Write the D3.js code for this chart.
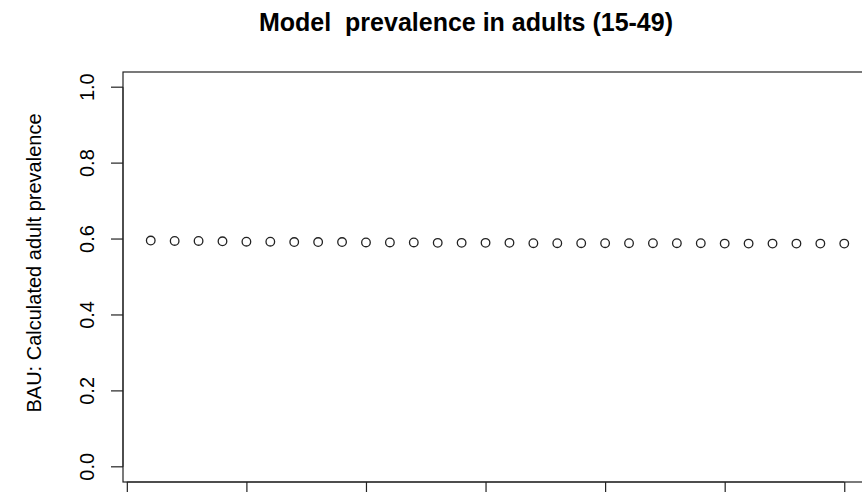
<!DOCTYPE html>
<html>
    <head>
        <title>Model prevalence</title>
        <script src="https://d3js.org/d3.v7.min.js"></script>
        <style>
            body { margin: 0; background: white; }
            text { font-family: "Liberation Sans", Arial, sans-serif; fill: black; }
            .axis path, .axis line { stroke: #222; }
        </style>
    </head>
    <body>
        <svg id="chart" width="862" height="492"></svg>
        <script>
            // Data (x tick labels are cut off in the reference)
            const years = d3.range(2011, 2041);
            const prevalence = [0.596, 0.595, 0.595, 0.594, 0.593, 0.593, 0.592, 0.592, 0.592, 0.591,
                                0.591, 0.591, 0.590, 0.590, 0.590, 0.590, 0.589, 0.589, 0.589, 0.589,
                                0.589, 0.589, 0.589, 0.589, 0.588, 0.588, 0.588, 0.588, 0.588, 0.588];
            const yTicks = [0, 0.2, 0.4, 0.6, 0.8, 1.0];
            const xTicks = [2010, 2015, 2020, 2025, 2030, 2035, 2040];

            const svg = d3.select("#chart");
            const margins = { top: 72, left: 123, bottom: 482, right: 872 };

            // R-style 4% padding on both axes
            const xScale = d3.scaleLinear()
                             .domain([2011 - 29 * 0.04, 2040 + 29 * 0.04])
                             .range([margins.left, margins.right]);
            const yScale = d3.scaleLinear()
                             .domain([-0.04, 1.04])
                             .range([margins.bottom, margins.top]);

            // plot box
            svg.append("rect")
               .attr("x", margins.left)
               .attr("y", margins.top)
               .attr("width", margins.right - margins.left)
               .attr("height", margins.bottom - margins.top)
               .attr("fill", "none")
               .attr("stroke", "#222")
               .attr("stroke-width", 1.2);

            let leftAxis = d3.axisLeft(yScale)
                             .tickValues(yTicks)
                             .tickFormat(d3.format(".1f"))
                             .tickSize(12);
            let yAxisG = svg.append("g")
                            .attr("class", "axis")
                            .attr("transform", `translate(${margins.left},0)`)
                            .call(leftAxis);
            yAxisG.select(".domain")
                  .attr("d", `M0,${yScale(0)}V${yScale(1)}`);
            yAxisG.selectAll(".tick").attr("transform", null);
            yAxisG.selectAll(".tick line")
                  .attr("stroke-width", 1.2)
                  .attr("y1", d => yScale(d))
                  .attr("y2", d => yScale(d));
            // labels parallel to the axis, like R's default las=0
            yAxisG.selectAll(".tick text")
                  .attr("font-size", 20)
                  .attr("x", null)
                  .attr("dy", null)
                  .attr("text-anchor", "middle")
                  .attr("transform", d => `translate(-29,${yScale(d)}) rotate(-90)`)
                  .attr("y", 0);

            let bottomAxis = d3.axisBottom(xScale)
                               .tickValues(xTicks)
                               .tickFormat("")
                               .tickSize(12);
            let xAxisG = svg.append("g")
                            .attr("class", "axis")
                            .attr("transform", `translate(0,${margins.bottom})`)
                            .call(bottomAxis);
            xAxisG.select(".domain")
                  .attr("d", `M${xScale(2010)},0H${xScale(2040)}`);
            xAxisG.selectAll("line").attr("stroke-width", 1.2);

            // points
            svg.append("g")
               .selectAll("circle")
               .data(years)
               .join("circle")
               .attr("cx", d => xScale(d))
               .attr("cy", (d, i) => yScale(prevalence[i]))
               .attr("r", 4.3)
               .attr("fill", "none")
               .attr("stroke", "#222")
               .attr("stroke-width", 1.3);

            svg.append("text")
               .attr("x", 466)
               .attr("y", 31)
               .attr("text-anchor", "middle")
               .attr("font-size", 25)
               .attr("font-weight", "bold")
               .style("white-space", "pre")
               .text("Model  prevalence in adults (15-49)");

            svg.append("text")
               .attr("transform", "translate(41,263) rotate(-90)")
               .attr("text-anchor", "middle")
               .attr("font-size", 20)
               .text("BAU: Calculated adult prevalence");
        </script>
    </body>
</html>
